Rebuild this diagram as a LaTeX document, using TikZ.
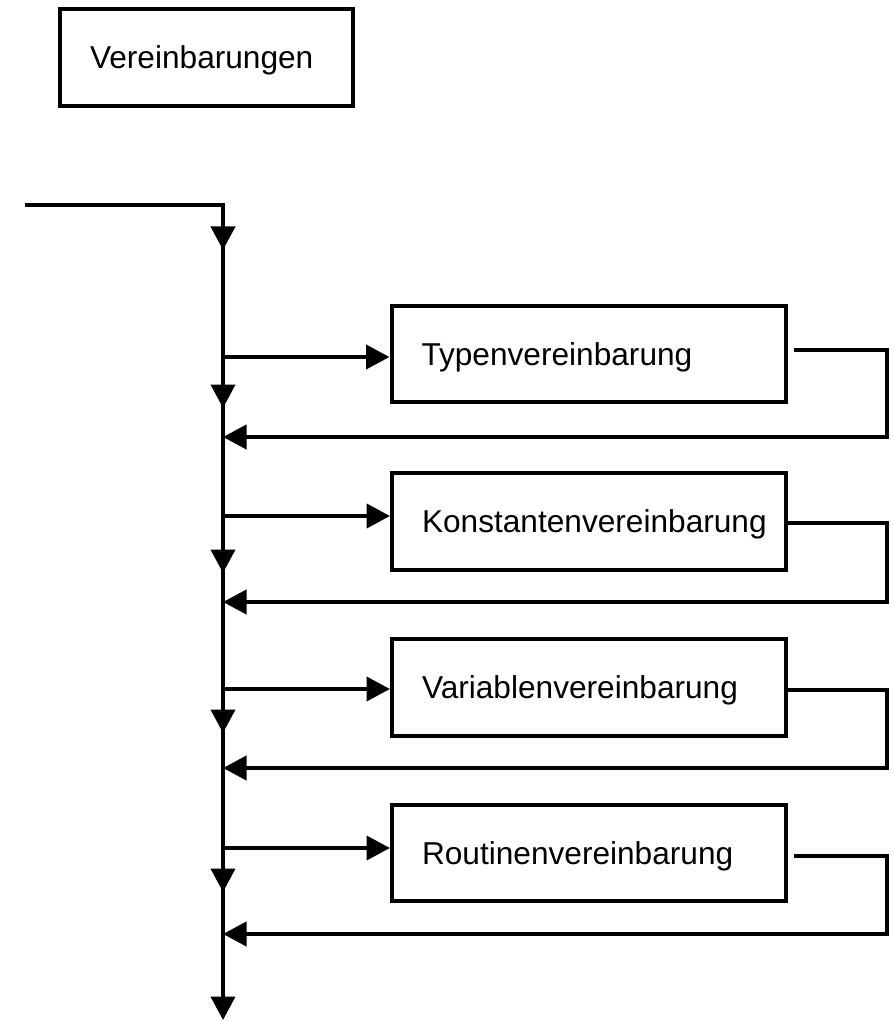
\documentclass[tikz,border=0pt]{standalone}
\usepackage{fontspec}
\setmainfont{Liberation Sans}
\usetikzlibrary{arrows.meta}

\begin{document}
\begin{tikzpicture}[>={Triangle[length=0.47cm,width=0.48cm]},
    decl/.style={draw,line width=0.08cm,minimum height=1.93cm,
      inner xsep=0pt,align=left,text depth=0pt,
      font=\fontsize{18}{21}\selectfont,
      execute at begin node={\hspace*{0.6cm}}},
    flow/.style={line width=0.08cm}]
        \useasboundingbox (0,0) rectangle (17.86,-20.42);

        \node[decl,text width=5.86cm] (vereinb) at (4.13,-1.15)
              {Vereinbarungen};
        \node[decl,text width=7.88cm] (typ) at (11.77,-7.08)
              {Typenvereinbarung};
        \node[decl,text width=7.88cm] (konst) at (11.78,-10.43)
              {Konstantenvereinbarung};
        \node[decl,text width=7.88cm] (var) at (11.78,-13.75)
              {Variablenvereinbarung};
        \node[decl,text width=7.88cm] (rout) at (11.78,-17.06)
              {Routinenvereinbarung};

        % Hauptlinie
        \coordinate (start) at (0.5,-4.10);
        \coordinate (ende) at (4.46,-20.40);
        \coordinate (dn0) at (4.46,-5.00);
        \coordinate (ecke) at (4.46,-4.10);

        \coordinate (in1) at (4.46,-7.14);
        \coordinate (dn1) at (4.46,-8.16);
        \coordinate (back1) at (4.46,-8.74);
        \coordinate (turn1) at (17.73,-8.74);

        \coordinate (in2) at (4.46,-10.32);
        \coordinate (dn2) at (4.46,-11.46);
        \coordinate (back2) at (4.46,-12.04);
        \coordinate (turn2) at (17.73,-12.04);

        \coordinate (in3) at (4.46,-13.78);
        \coordinate (dn3) at (4.46,-14.66);
        \coordinate (back3) at (4.46,-15.36);
        \coordinate (turn3) at (17.73,-15.36);

        \coordinate (in4) at (4.46,-16.96);
        \coordinate (dn4) at (4.46,-17.84);
        \coordinate (back4) at (4.46,-18.68);
        \coordinate (turn4) at (17.73,-18.68);

        \draw[flow,->] (start) -| (ende);
        \draw[flow,->] (ecke) -- (dn0);
        \draw[flow,->] (in1) -- (dn1);
        \draw[flow,->] (in2) -- (dn2);
        \draw[flow,->] (in3) -- (dn3);
        \draw[flow,->] (in4) -- (dn4);

        % Zweige
        \draw[flow,->] (in1) -- (in1 -| typ.west);
        \draw[flow,->] (in2) -- (in2 -| konst.west);
        \draw[flow,->] (in3) -- (in3 -| var.west);
        \draw[flow,->] (in4) -- (in4 -| rout.west);

        \draw[flow,->] ([shift={(0.12,0.08)}]typ.east) -| (turn1) -- (back1);
        \draw[flow,->] ([yshift=-0.03cm]konst.east) -| (turn2) -- (back2);
        \draw[flow,->] ([yshift=-0.05cm]var.east) -| (turn3) -- (back3);
        \draw[flow,->] ([shift={(0.12,-0.06)}]rout.east) -| (turn4) -- (back4);
    \end{tikzpicture}
\end{document}
